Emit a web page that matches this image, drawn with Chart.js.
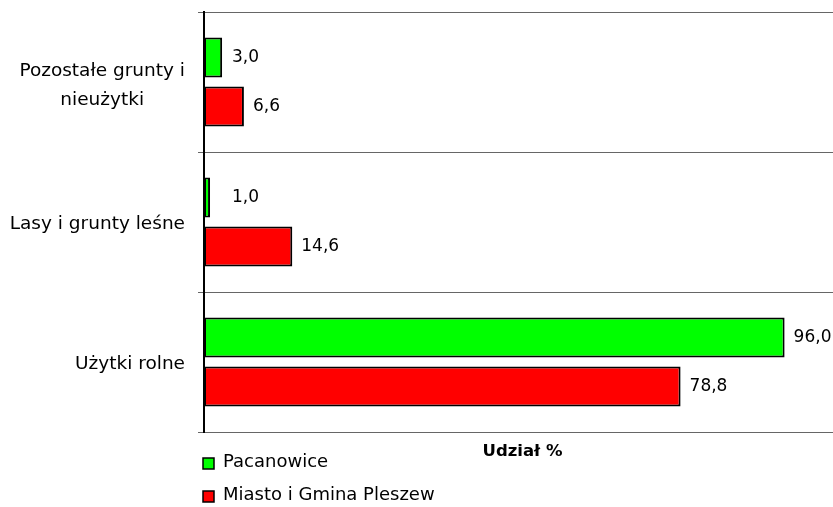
<!DOCTYPE html>
<html>
<head>
<meta charset="utf-8">
<script src="https://cdn.jsdelivr.net/npm/chart.js@4"></script>
<style>
  html, body { margin: 0; padding: 0; background: #fff; overflow: hidden; }
  #wrap { width: 833px; height: 507px; }
</style>
</head>
<body>
<div id="wrap"><canvas id="chart" width="833" height="507"></canvas></div>
<script>
const categories = [['Pozostałe grunty i', 'nieużytki'], ['Lasy i grunty leśne'], ['Użytki rolne']];
const seriesNames = ['Pacanowice', 'Miasto i Gmina Pleszew'];
const pacanowice = [3.0, 1.0, 96.0];
const pleszew = [6.6, 14.6, 78.8];
const seriesColors = ['#00ff00', '#ff0000'];
const axisTitle = 'Udział %';

const FONT = '"DejaVu Sans", sans-serif';

// category labels, value labels, axis title and legend drawn like the Excel original
const extras = {
  id: 'extras',
  afterDatasetsDraw(chart) {
    const ctx = chart.ctx;
    const area = chart.chartArea;
    const y = chart.scales.y;
    ctx.save();
    ctx.fillStyle = '#000';
    ctx.textBaseline = 'middle';

    // category labels (lines centred among themselves, block right-aligned)
    ctx.font = '18.5px ' + FONT;
    const lineH = 29;
    categories.forEach((lines, i) => {
      const cy = y.getPixelForValue(i) + 2 + (lines.length - 1) * 2;
      const maxW = Math.max(...lines.map(l => ctx.measureText(l).width));
      const cx = area.left - 19 - maxW / 2;
      ctx.textAlign = 'center';
      lines.forEach((l, j) => {
        ctx.fillText(l, cx, cy + (j - (lines.length - 1) / 2) * lineH);
      });
    });

    // value labels
    ctx.font = '17px ' + FONT;
    ctx.textAlign = 'left';
    chart.data.datasets.forEach((ds, di) => {
      chart.getDatasetMeta(di).data.forEach((bar, i) => {
        const x = Math.max(bar.x + 9, area.left + 28);
        ctx.fillText(ds.data[i].toFixed(1).replace('.', ','), x, bar.y);
      });
    });

    // axis title
    ctx.font = 'bold 16.5px ' + FONT;
    ctx.textAlign = 'center';
    ctx.fillText(axisTitle, (area.left + area.right) / 2 + 4, area.bottom + 20);

    // legend
    ctx.font = '18px ' + FONT;
    ctx.textAlign = 'left';
    chart.data.datasets.forEach((ds, di) => {
      const ly = area.bottom + 30 + di * 33;
      ctx.fillStyle = ds.backgroundColor;
      ctx.fillRect(area.left - 1, ly - 4, 11, 11);
      ctx.strokeStyle = '#000';
      ctx.lineWidth = 1.5;
      ctx.strokeRect(area.left - 1, ly - 4, 11, 11);
      ctx.fillStyle = '#000';
      ctx.fillText(ds.label, area.left + 19, ly);
    });
    ctx.restore();
  }
};

new Chart(document.getElementById('chart'), {
  type: 'bar',
  data: {
    labels: categories,
    datasets: [
      { label: seriesNames[0], data: pacanowice, backgroundColor: seriesColors[0] },
      { label: seriesNames[1], data: pleszew, backgroundColor: seriesColors[1] }
    ]
  },
  options: {
    indexAxis: 'y',
    responsive: false,
    animation: false,
    layout: { padding: { top: 12, right: 0, bottom: 75, left: 0 } },
    datasets: {
      bar: {
        borderColor: '#000',
        borderWidth: 2,
        borderSkipped: false,
        categoryPercentage: 0.7,
        barPercentage: 0.816
      }
    },
    scales: {
      x: {
        display: false,
        min: 0,
        max: 104
      },
      y: {
        afterFit: s => { s.width = 204; },
        ticks: { display: false },
        grid: { color: '#666', lineWidth: 1, tickLength: 6, offset: true },
        border: { display: true, color: '#000', width: 2 }
      }
    },
    plugins: {
      legend: { display: false },
      tooltip: { enabled: false }
    }
  },
  plugins: [extras]
});
</script>
</body>
</html>
